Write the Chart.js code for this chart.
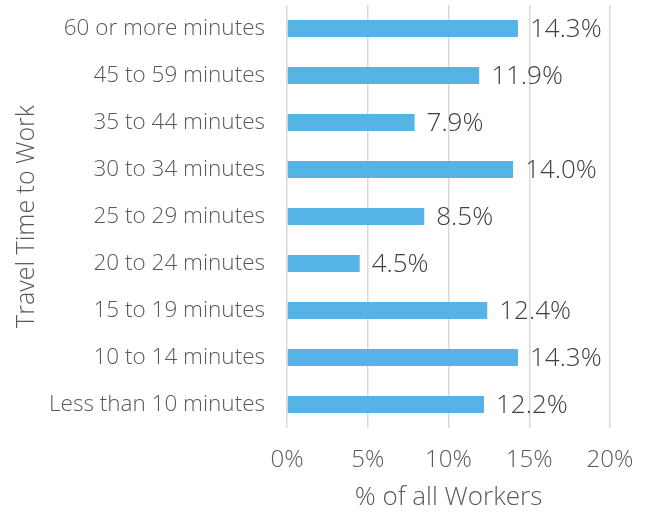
<!DOCTYPE html>
<html><head><meta charset="utf-8">
<script src="https://cdn.jsdelivr.net/npm/chart.js@4"></script>
<style>html,body{margin:0;padding:0;background:#fff}#wrap{width:647px;height:513px}</style>
</head><body><div id="wrap"><canvas id="c" width="647" height="513"></canvas></div>
<script>
const categories = ["60 or more minutes","45 to 59 minutes","35 to 44 minutes","30 to 34 minutes","25 to 29 minutes","20 to 24 minutes","15 to 19 minutes","10 to 14 minutes","Less than 10 minutes"];
const shares = [14.3, 11.9, 7.9, 14.0, 8.5, 4.5, 12.4, 14.3, 12.2];
const xTicks = [0, 5, 10, 15, 20];
const FONT = "'Open Sans', 'Noto Sans', sans-serif";

const labelPlugin = {
  id: 'barLabels',
  afterDatasetsDraw(chart) {
    const ctx = chart.ctx;
    const meta = chart.getDatasetMeta(0);
    ctx.save();
    ctx.font = "300 26px " + FONT;
    ctx.fillStyle = '#404040';
    ctx.textAlign = 'left';
    ctx.textBaseline = 'middle';
    meta.data.forEach((bar, i) => {
      ctx.fillText(shares[i].toFixed(1) + '%', bar.x + 12, bar.y + 1);
    });
    ctx.restore();
  }
};

new Chart(document.getElementById('c'), {
  type: 'bar',
  data: {
    labels: categories,
    datasets: [{
      data: shares,
      backgroundColor: '#56B3E6',
      borderWidth: 0,
      barPercentage: 0.36,
      categoryPercentage: 1.0
    }]
  },
  plugins: [labelPlugin],
  options: {
    indexAxis: 'y',
    responsive: false,
    animation: false,
    devicePixelRatio: 1,
    layout: { padding: { top: 5, right: 37, left: 0, bottom: 0 } },
    plugins: { legend: { display: false }, tooltip: { enabled: false } },
    scales: {
      x: {
        min: 0, max: 20,
        afterBuildTicks(scale) { scale.ticks = xTicks.map(v => ({ value: v })); },
        afterFit(scale) { scale.height = 85; scale.paddingLeft = 0; scale.paddingRight = 0; },
        ticks: {
          font: { family: FONT, size: 24, weight: 300 }, color: '#595959', padding: 18,
          callback: v => v + '%'
        },
        grid: { color: '#d9d9d9', lineWidth: 1.5, drawTicks: false },
        border: { display: false },
        title: { display: true, text: '% of all Workers', font: { family: FONT, size: 26, weight: 300 }, color: '#595959', padding: { top: 2, bottom: 0 } }
      },
      y: {
        afterFit(scale) { scale.width = 287; scale.paddingTop = 0; scale.paddingBottom = 0; },
        ticks: { font: { family: FONT, size: 22.5, weight: 300 }, color: '#595959', padding: 22 },
        grid: { display: false, drawTicks: false },
        border: { display: false },
        title: { display: true, text: 'Travel Time to Work', font: { family: FONT, size: 25, weight: 300 }, color: '#595959', padding: { top: 12, bottom: 0 } }
      }
    }
  }
});
</script></body></html>
